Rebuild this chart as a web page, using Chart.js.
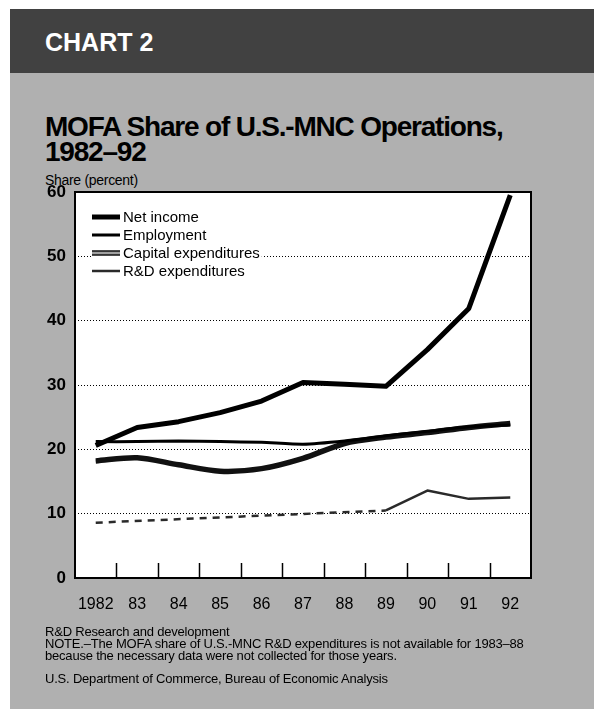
<!DOCTYPE html>
<html>
<head>
<meta charset="utf-8">
<script src="https://cdn.jsdelivr.net/npm/chart.js@4/dist/chart.umd.min.js"></script>
<style>
  html, body { margin: 0; padding: 0; background: #fff; }
  body { width: 594px; height: 709px; position: relative; overflow: hidden; font-family: "Liberation Sans", Arial, sans-serif; color: #000; }
  #page { position: absolute; left: 10px; top: 9px; right: 0; bottom: 0; background: #b0b0b0; }
  #band { position: absolute; left: 10px; top: 9px; right: 0; height: 64px; background: #414141; }
  .txt { position: absolute; left: 45px; white-space: nowrap; }
  #chartno { top: 30px; font: bold 25px/25px "Liberation Sans", Arial, sans-serif; color: #fff; }
  #title { top: 114px; font: bold 28px/25px "Liberation Sans", Arial, sans-serif; letter-spacing: -1.2px; }
  #unit { top: 173px; font: 14px/14px "Liberation Sans", Arial, sans-serif; letter-spacing: -0.3px; }
  #notes { top: 626px; font: 13px/12px "Liberation Sans", Arial, sans-serif; letter-spacing: -0.2px; }
  #source { top: 673px; font: 13px/12px "Liberation Sans", Arial, sans-serif; letter-spacing: -0.2px; }
  #wrap { position: absolute; left: 0; top: 0; width: 594px; height: 709px; }
</style>
</head>
<body>
<div id="page"></div>
<div id="band"></div>
<div class="txt" id="chartno">CHART 2</div>
<div class="txt" id="title">MOFA Share of U.S.-MNC Operations,<br>1982–92</div>
<div class="txt" id="unit">Share (percent)</div>
<div id="wrap"><canvas id="chart" width="594" height="709"></canvas></div>
<div class="txt" id="notes">R&amp;D Research and development<br>NOTE.–The MOFA share of U.S.-MNC R&amp;D expenditures is not available for 1983–88<br>because the necessary data were not collected for those years.</div>
<div class="txt" id="source">U.S. Department of Commerce, Bureau of Economic Analysis</div>
<script>
const years = ['1982', '83', '84', '85', '86', '87', '88', '89', '90', '91', '92'];
const netIncome = [20.6, 23.4, 24.3, 25.7, 27.5, 30.4, 30.1, 29.8, 35.5, 41.9, 59.5];
const employment = [21.2, 21.2, 21.3, 21.2, 21.1, 20.8, 21.3, 22.1, 22.8, 23.5, 23.8];
const capital = [18.2, 18.7, 17.6, 16.6, 17.0, 18.6, 20.9, 21.9, 22.6, 23.4, 24.0];
// R&D not collected for 1983-88, the gap is bridged by a dashed line
const rd = [8.6, null, null, null, null, null, null, 10.5, 13.6, 12.3, 12.5];
const yMin = 0, yMax = 60, yStep = 10;

const gapDash = ctx => (ctx.p0.skip || ctx.p1.skip) ? [7, 6] : undefined;

// frame, inner ticks between years and the legend inside the plot
const framePlugin = {
    id: 'frame',
    beforeDraw(chart) {
        const { ctx, chartArea: a } = chart;
        ctx.save();
        ctx.fillStyle = '#fff';
        ctx.fillRect(a.left, a.top, a.right - a.left, a.bottom - a.top);
        ctx.restore();
    },
    afterDatasetsDraw(chart) {
        const { ctx, chartArea: a, scales } = chart;
        const x = scales.x;
        ctx.save();
        ctx.strokeStyle = '#000';
        ctx.lineWidth = 1.5;
        for (let i = 1; i < years.length; i++) {
            const px = Math.round((x.getPixelForValue(i - 1) + x.getPixelForValue(i)) / 2) + 0.5;
            ctx.beginPath();
            ctx.moveTo(px, a.bottom);
            ctx.lineTo(px, a.bottom - 15);
            ctx.stroke();
        }

        // legend
        const labels = [];
        chart.data.datasets.forEach(ds => { if (!labels.includes(ds.label)) labels.push(ds.label); });
        ctx.font = '15px "Liberation Sans", Arial, sans-serif';
        ctx.textBaseline = 'middle';
        labels.forEach((lab, i) => {
            const y = a.top + 25 + i * 18;
            const x0 = a.left + 17, x1 = x0 + 28;
            const w = ctx.measureText(lab).width;
            ctx.fillStyle = '#fff';
            ctx.fillRect(x0 - 1, y - 8, x1 - x0 + 6 + w, 16);
            chart.data.datasets.filter(ds => ds.label === lab).forEach(ds => {
                ctx.strokeStyle = ds.borderColor;
                ctx.lineWidth = ds.borderWidth;
                ctx.setLineDash([]);
                ctx.beginPath();
                ctx.moveTo(x0, y);
                ctx.lineTo(x1, y);
                ctx.stroke();
            });
            ctx.fillStyle = '#000';
            ctx.fillText(lab, x1 + 3, y + 1);
        });

        ctx.strokeStyle = '#000';
        ctx.lineWidth = 2;
        ctx.strokeRect(a.left, a.top, a.right - a.left, a.bottom - a.top);
        ctx.restore();
    }
};

new Chart(document.getElementById('chart'), {
    type: 'line',
    data: {
        labels: years,
        datasets: [
            {
                label: 'Net income',
                data: netIncome,
                borderColor: '#000',
                borderWidth: 5,
                tension: 0
            },
            {
                label: 'Employment',
                data: employment,
                borderColor: '#000',
                borderWidth: 3,
                tension: 0.2
            },
            {
                label: 'Capital expenditures',
                data: capital,
                borderColor: '#111',
                borderWidth: 5.5,
                tension: 0.3
            },
            {
                label: 'Capital expenditures',
                data: capital,
                borderColor: '#a0a0a0',
                borderWidth: 2.5,
                tension: 0.3
            },
            {
                label: 'R&D expenditures',
                data: rd,
                borderColor: '#2a2a2a',
                borderWidth: 2.5,
                tension: 0,
                spanGaps: true,
                segment: { borderDash: gapDash }
            }
        ]
    },
    options: {
        responsive: false,
        animation: false,
        clip: 2,
        elements: {
            point: { radius: 0, hoverRadius: 0 },
            line: { borderCapStyle: 'butt', borderJoinStyle: 'round' }
        },
        layout: { padding: { left: 0, top: 192, right: 63, bottom: 91 } },
        plugins: {
            legend: { display: false },
            tooltip: { enabled: false }
        },
        scales: {
            x: {
                type: 'category',
                offset: true,
                grid: { display: false, drawTicks: false },
                border: { display: false },
                ticks: {
                    color: '#000',
                    font: { family: '"Liberation Sans", Arial, sans-serif', size: 16 },
                    padding: 17,
                    maxRotation: 0,
                    autoSkip: false
                },
                afterFit: s => { s.height = 40; }
            },
            y: {
                min: yMin,
                max: yMax,
                grid: {
                    drawTicks: false,
                    lineWidth: 1,
                    color: c => (c.tick && (c.tick.value === yMin || c.tick.value === yMax)) ? 'rgba(0,0,0,0)' : '#000'
                },
                border: { display: false, dash: [1, 2] },
                ticks: {
                    stepSize: yStep,
                    color: '#000',
                    font: { family: '"Liberation Sans", Arial, sans-serif', size: 17, weight: 'bold' },
                    padding: 9
                },
                afterFit: s => { s.width = 75; }
            }
        }
    },
    plugins: [framePlugin]
});
</script>
</body>
</html>
